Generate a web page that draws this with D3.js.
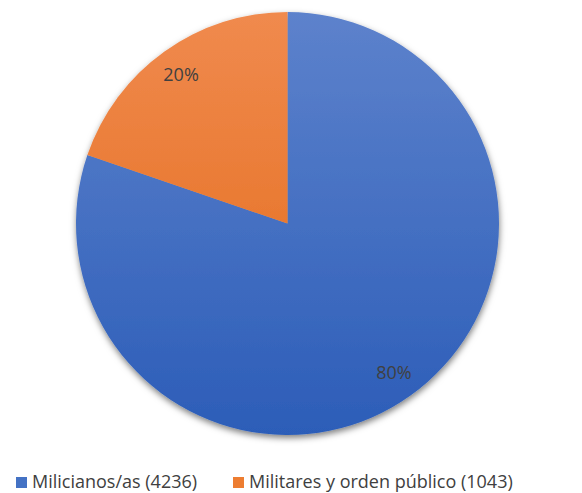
<!DOCTYPE html>
<html>
<head>
<meta charset="utf-8">
<script src="https://cdn.jsdelivr.net/npm/d3@7/dist/d3.min.js"></script>
<style>
  html, body { margin: 0; padding: 0; background: #ffffff; }
  svg { display: block; }
</style>
</head>
<body>
<svg id="chart" width="582" height="493"></svg>
<script>
// Data: personnel by group
const categories = ["Milicianos/as", "Militares y orden público"];
const counts = [4236, 1043];
const legendLabels = ["Milicianos/as (4236)", "Militares y orden público (1043)"];

const W = 582, H = 493;
const cx = 287.5, cy = 223.5, radius = 211.5;
const labelRadius = 183;

const svg = d3.select("#chart");
const defs = svg.append("defs");

// Vertical gradients: lighter at top, darker at bottom (coordinates relative to pie centre)
const gradStops = [
  { id: "gBlue", top: "#5d82cc", bottom: "#2c5db8" },
  { id: "gOrange", top: "#f08a4e", bottom: "#e26815" }
];
gradStops.forEach(g => {
  const lg = defs.append("linearGradient")
    .attr("id", g.id)
    .attr("gradientUnits", "userSpaceOnUse")
    .attr("x1", 0).attr("y1", -radius)
    .attr("x2", 0).attr("y2", radius);
  lg.append("stop").attr("offset", "0%").attr("stop-color", g.top);
  lg.append("stop").attr("offset", "100%").attr("stop-color", g.bottom);
});

const shadow = defs.append("filter").attr("id", "shadow")
  .attr("x", "-10%").attr("y", "-10%").attr("width", "120%").attr("height", "120%");
shadow.append("feDropShadow")
  .attr("dx", 0.5).attr("dy", 3).attr("stdDeviation", 3)
  .attr("flood-color", "#000").attr("flood-opacity", 0.5);

const color = d3.scaleOrdinal().domain(categories).range(["url(#gBlue)", "url(#gOrange)"]);
const swatch = d3.scaleOrdinal().domain(categories).range(["#4472c4", "#ed7d31"]);

const data = categories.map((c, i) => ({ name: c, value: counts[i] }));
const total = d3.sum(counts);

const pie = d3.pie().sort(null).value(d => d.value);
const arcs = pie(data);
const arc = d3.arc().innerRadius(0).outerRadius(radius);
const labelArc = d3.arc().innerRadius(labelRadius).outerRadius(labelRadius);

const g = svg.append("g").attr("transform", `translate(${cx},${cy})`);

g.append("g").attr("filter", "url(#shadow)")
  .selectAll("path")
  .data(arcs)
  .join("path")
  .attr("d", arc)
  .attr("fill", d => color(d.data.name));

// Percent labels
g.selectAll("text.pct")
  .data(arcs)
  .join("text")
  .attr("class", "pct")
  .attr("transform", d => `translate(${labelArc.centroid(d)})`)
  .attr("text-anchor", "middle")
  .attr("dy", "0.35em")
  .attr("font-family", "'Open Sans', sans-serif")
  .attr("font-size", 18)
  .attr("fill", "#404040")
  .text(d => d3.format(".0%")(d.data.value / total));

// Legend
const legendX = [16, 233];
const legend = svg.append("g");
const items = legend.selectAll("g")
  .data(categories)
  .join("g")
  .attr("transform", (d, i) => `translate(${legendX[i]},477)`);
items.append("rect")
  .attr("width", 11).attr("height", 11)
  .attr("fill", d => swatch(d));
items.append("text")
  .attr("x", 16).attr("y", 11)
  .attr("font-family", "'Open Sans', sans-serif")
  .attr("font-size", 18)
  .attr("fill", "#404040")
  .text((d, i) => legendLabels[i]);
</script>
</body>
</html>
